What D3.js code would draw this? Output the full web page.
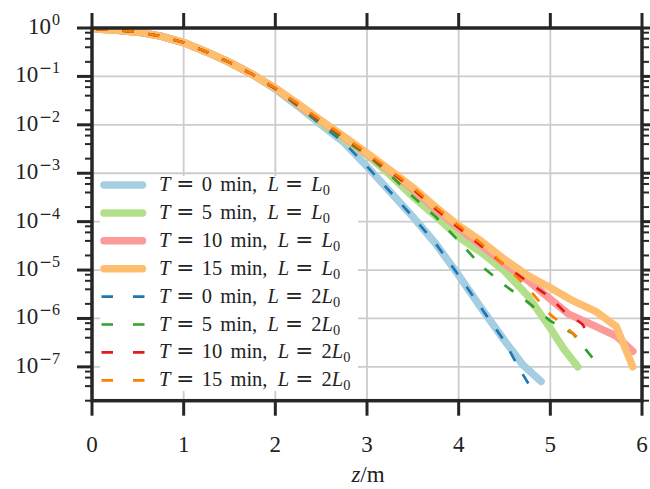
<!DOCTYPE html>
<html>
<head>
<meta charset="utf-8">
<script src="https://cdn.jsdelivr.net/npm/d3@7/dist/d3.min.js"></script>
<style>
  html, body { margin: 0; padding: 0; background: #fff; }
  svg { display: block; }
  text { font-family: "Liberation Serif", serif; fill: #222; }
</style>
</head>
<body>
<svg id="chart" width="650" height="489"></svg>
<script>
// ---- data -------------------------------------------------------------
const xTicks = [0, 1, 2, 3, 4, 5, 6];
const yExponents = [0, -1, -2, -3, -4, -5, -6, -7];

// T = 0 min, L = L0
const zT0L1 = [0.05, 0.25, 0.5, 0.75, 1.0, 1.25, 1.5, 1.75, 2.0, 2.25, 2.5, 2.75, 3.0, 3.25, 3.5, 3.75, 4.0, 4.25, 4.5, 4.7, 4.9];
const pT0L1 = [0.95, 0.91, 0.82, 0.68, 0.50, 0.32, 0.195, 0.11, 5.5e-2, 2.4e-2, 1.0e-2, 4.3e-3, 1.38e-3, 4.2e-4, 1.26e-4, 3.5e-5, 7.8e-6, 1.6e-6, 3.5e-7, 1.1e-7, 5.0e-8];
// T = 5 min, L = L0
const zT5L1 = [0.05, 0.25, 0.5, 0.75, 1.0, 1.25, 1.5, 1.75, 2.0, 2.25, 2.5, 2.75, 3.0, 3.25, 3.5, 3.75, 4.0, 4.25, 4.5, 4.75, 5.0, 5.15, 5.3];
const pT5L1 = [0.95, 0.91, 0.82, 0.68, 0.50, 0.32, 0.195, 0.11, 5.6e-2, 2.5e-2, 1.1e-2, 4.9e-3, 2.4e-3, 9.3e-4, 3.3e-4, 1.3e-4, 4.8e-5, 2.3e-5, 9.5e-6, 3.0e-6, 6.3e-7, 2.3e-7, 1.0e-7];
// T = 10 min, L = L0
const zT10L1 = [0.05, 0.25, 0.5, 0.75, 1.0, 1.25, 1.5, 1.75, 2.0, 2.25, 2.5, 2.75, 3.0, 3.25, 3.5, 3.75, 4.0, 4.25, 4.5, 4.75, 5.0, 5.2, 5.5, 5.72, 5.9];
const pT10L1 = [0.95, 0.91, 0.82, 0.68, 0.50, 0.32, 0.195, 0.11, 5.7e-2, 2.6e-2, 1.17e-2, 5.5e-3, 2.5e-3, 1.1e-3, 4.7e-4, 1.8e-4, 7.4e-5, 3.2e-5, 1.35e-5, 6.2e-6, 2.5e-6, 1.23e-6, 6.8e-7, 4.3e-7, 2.1e-7];
// T = 15 min, L = L0
const zT15L1 = [0.05, 0.25, 0.5, 0.75, 1.0, 1.25, 1.5, 1.75, 2.0, 2.25, 2.5, 2.75, 3.0, 3.25, 3.5, 3.75, 4.0, 4.25, 4.5, 4.75, 5.0, 5.25, 5.5, 5.72, 5.9];
const pT15L1 = [0.95, 0.91, 0.82, 0.68, 0.50, 0.32, 0.195, 0.11, 5.75e-2, 2.7e-2, 1.23e-2, 5.75e-3, 2.6e-3, 1.17e-3, 5.1e-4, 2.0e-4, 8.3e-5, 3.9e-5, 1.66e-5, 7.8e-6, 4.3e-6, 2.3e-6, 1.38e-6, 6.8e-7, 1.0e-7];

// T = 0 min, L = 2L0
const zT0L2 = [0.05, 0.25, 0.5, 0.75, 1.0, 1.25, 1.5, 1.75, 2.0, 2.25, 2.5, 2.75, 3.0, 3.25, 3.5, 3.75, 4.0, 4.25, 4.5, 4.6, 4.7, 4.8];
const pT0L2 = [0.95, 0.91, 0.82, 0.68, 0.50, 0.32, 0.195, 0.11, 5.5e-2, 2.4e-2, 1.0e-2, 4.3e-3, 1.38e-3, 4.2e-4, 1.26e-4, 3.5e-5, 7.8e-6, 1.6e-6, 3.4e-7, 1.5e-7, 7.0e-8, 3.4e-8];
// T = 5 min, L = 2L0
const zT5L2 = [0.05, 0.25, 0.5, 0.75, 1.0, 1.25, 1.5, 1.75, 2.0, 2.25, 2.5, 2.75, 3.0, 3.25, 3.5, 3.75, 4.0, 4.25, 4.5, 4.75, 5.0, 5.25, 5.35, 5.49];
const pT5L2 = [0.95, 0.91, 0.82, 0.68, 0.50, 0.32, 0.195, 0.11, 5.6e-2, 2.5e-2, 1.1e-2, 4.9e-3, 2.4e-3, 9.3e-4, 3.3e-4, 1.26e-4, 4.0e-5, 1.2e-5, 4.9e-6, 2.2e-6, 8.9e-7, 4.8e-7, 2.8e-7, 1.3e-7];
// T = 10 min, L = 2L0
const zT10L2 = [0.05, 0.25, 0.5, 0.75, 1.0, 1.25, 1.5, 1.75, 2.0, 2.25, 2.5, 2.75, 3.0, 3.25, 3.5, 3.75, 4.0, 4.25, 4.5, 4.75, 5.0, 5.15, 5.25, 5.35, 5.42];
const pT10L2 = [0.95, 0.91, 0.82, 0.68, 0.50, 0.32, 0.195, 0.11, 5.7e-2, 2.6e-2, 1.17e-2, 5.5e-3, 2.5e-3, 1.1e-3, 4.7e-4, 1.8e-4, 7.4e-5, 3.1e-5, 1.26e-5, 5.8e-6, 2.7e-6, 1.4e-6, 1.05e-6, 7.6e-7, 4.6e-7];
// T = 15 min, L = 2L0
const zT15L2 = [0.05, 0.25, 0.5, 0.75, 1.0, 1.25, 1.5, 1.75, 2.0, 2.25, 2.5, 2.75, 3.0, 3.25, 3.5, 3.75, 4.0, 4.25, 4.5, 4.75, 5.0, 5.15, 5.3];
const pT15L2 = [0.95, 0.91, 0.82, 0.68, 0.50, 0.32, 0.195, 0.11, 5.75e-2, 2.7e-2, 1.23e-2, 5.75e-3, 2.6e-3, 1.17e-3, 5.1e-4, 2.0e-4, 8.3e-5, 3.5e-5, 1.26e-5, 4.4e-6, 1.2e-6, 7.1e-7, 4.0e-7];

const seriesT = ["0", "5", "10", "15", "0", "5", "10", "15"];
const seriesL = ["", "", "", "", "2", "2", "2", "2"];

// ---- chart ------------------------------------------------------------
const solidColors = ["#a6cee3", "#b2df8a", "#fb9a99", "#fdbf6f"];
const dashColors = ["#1f78b4", "#33a02c", "#e31a1c", "#ff7f00"];
const ink = "#262626";

const series = [
  [zT0L1, pT0L1], [zT5L1, pT5L1], [zT10L1, pT10L1], [zT15L1, pT15L1],
  [zT0L2, pT0L2], [zT5L2, pT5L2], [zT10L2, pT10L2], [zT15L2, pT15L2]
].map(([z, p], i) => ({
  points: z.map((zz, j) => [zz, p[j]]),
  dashed: i >= 4,
  color: i < 4 ? solidColors[i] : dashColors[i - 4],
  T: seriesT[i], L: seriesL[i]
}));

const plot = { left: 92, right: 642, top: 28, bottom: 400.7 };
const x = d3.scaleLinear().domain([0, 6]).range([plot.left, plot.right]);
const y = d3.scaleLog().domain([2e-8, 1]).range([plot.bottom, plot.top]);

const svg = d3.select("#chart");
const FS = 23;      // tick labels and axis label
const LFS = 20.5;   // legend text

// grid
const grid = svg.append("g");
grid.selectAll("line.vx").data(xTicks).join("line")
  .attr("x1", d => x(d)).attr("x2", d => x(d))
  .attr("y1", plot.top).attr("y2", plot.bottom)
  .attr("stroke", "#cccccc").attr("stroke-width", 1.8);
grid.selectAll("line.hy").data(yExponents).join("line")
  .attr("y1", d => y(Math.pow(10, d))).attr("y2", d => y(Math.pow(10, d)))
  .attr("x1", plot.left).attr("x2", plot.right)
  .attr("stroke", "#cccccc").attr("stroke-width", 1.8);

// curves
svg.append("clipPath").attr("id", "plotclip").append("rect")
  .attr("x", plot.left).attr("y", plot.top)
  .attr("width", plot.right - plot.left).attr("height", plot.bottom - plot.top);
const line = d3.line().x(d => x(d[0])).y(d => y(d[1]));
const curves = svg.append("g").attr("clip-path", "url(#plotclip)");
series.forEach(s => {
  curves.append("path")
    .attr("d", line(s.points))
    .attr("fill", "none")
    .attr("stroke", s.color)
    .attr("stroke-width", s.dashed ? 2.7 : 7.5)
    .attr("stroke-linecap", s.dashed ? "butt" : "round")
    .attr("stroke-linejoin", "round")
    .attr("stroke-dasharray", s.dashed ? "11,15" : null);
});

// legend: math-style labels laid out piece by piece
const legend = svg.append("g");
legend.append("rect")
  .attr("x", 100).attr("y", 176).attr("width", 258).attr("height", 215)
  .attr("rx", 4).attr("fill", "#fff");

function piece(g, str, px, py, opts = {}) {
  const t = g.append("text").attr("x", px).attr("y", py)
    .attr("font-size", opts.size || LFS)
    .attr("font-style", opts.italic ? "italic" : "normal")
    .text(str);
  if (opts.family) t.style("font-family", opts.family);
  return t.node().getComputedTextLength();
}

series.forEach((s, i) => {
  const cy = 185 + i * 27.9;
  legend.append("line")
    .attr("x1", s.dashed ? 101.5 : 104).attr("x2", s.dashed ? 145 : 142.5)
    .attr("y1", cy).attr("y2", cy)
    .attr("stroke", s.color)
    .attr("stroke-width", s.dashed ? 2.7 : 7.5)
    .attr("stroke-linecap", s.dashed ? "butt" : "round")
    .attr("stroke-dasharray", s.dashed ? "11.5,20" : null);
  const by = cy + 6;
  const em = LFS;
  const eq = { family: "'DejaVu Serif'", size: LFS * 1.05 };
  let cx = 159;
  cx += piece(legend, "T", cx, by, { italic: true });
  cx += 0.28 * em;
  cx += piece(legend, "=", cx, by, eq);
  cx += 0.37 * em;
  cx += piece(legend, s.T, cx, by);
  cx += 0.4 * em;
  cx += piece(legend, "min,", cx, by);
  cx += 0.5 * em;
  cx += piece(legend, "L", cx, by, { italic: true });
  cx += 0.3 * em;
  cx += piece(legend, "=", cx, by, eq);
  cx += 0.4 * em;
  if (s.L) cx += piece(legend, s.L, cx, by);
  cx += piece(legend, "L", cx, by, { italic: true });
  piece(legend, "0", cx, by + 4, { size: LFS * 0.7 });
});

// axes: spines, ticks, labels
const axes = svg.append("g");
const minorVals = [];
for (let e = -8; e <= -1; e++) {
  [2, 4, 6, 8].forEach(m => {
    const v = m * Math.pow(10, e);
    if (v >= 2e-8 && v <= 1) minorVals.push(v);
  });
}
yExponents.forEach(e => {
  const yy = y(Math.pow(10, e));
  axes.append("line").attr("x1", plot.left - 15).attr("x2", plot.left).attr("y1", yy).attr("y2", yy)
    .attr("stroke", ink).attr("stroke-width", 3);
  axes.append("line").attr("x1", plot.right).attr("x2", plot.right + 15).attr("y1", yy).attr("y2", yy)
    .attr("stroke", ink).attr("stroke-width", 3);
  // label: "10" with a raised exponent, right-aligned at x = 60
  const g = axes.append("g");
  const supSize = FS * 0.7;
  const expTxt = g.append("text").attr("y", yy - 3).attr("font-size", supSize);
  if (e < 0) expTxt.append("tspan").style("font-family", "'DejaVu Serif'").attr("font-size", supSize * 0.95).text("\u2212");
  expTxt.append("tspan").text(String(Math.abs(e)));
  const expW = expTxt.node().getComputedTextLength();
  expTxt.attr("x", 60 - expW);
  g.append("text").attr("x", 60 - expW - 1).attr("y", yy + 6)
    .attr("text-anchor", "end").attr("font-size", FS).text("10");
});
minorVals.forEach(v => {
  const yy = y(v);
  axes.append("line").attr("x1", plot.left - 7).attr("x2", plot.left).attr("y1", yy).attr("y2", yy)
    .attr("stroke", ink).attr("stroke-width", 2);
  axes.append("line").attr("x1", plot.right).attr("x2", plot.right + 7).attr("y1", yy).attr("y2", yy)
    .attr("stroke", ink).attr("stroke-width", 2);
});
xTicks.forEach(d => {
  const xx = x(d);
  axes.append("line").attr("x1", xx).attr("x2", xx).attr("y1", plot.bottom).attr("y2", plot.bottom + 15)
    .attr("stroke", ink).attr("stroke-width", 3);
  axes.append("line").attr("x1", xx).attr("x2", xx).attr("y1", plot.top - 15).attr("y2", plot.top)
    .attr("stroke", ink).attr("stroke-width", 3);
  axes.append("text").attr("x", xx).attr("y", 452)
    .attr("text-anchor", "middle").attr("font-size", FS).text(String(d));
});
axes.append("rect")
  .attr("x", plot.left).attr("y", plot.top)
  .attr("width", plot.right - plot.left).attr("height", plot.bottom - plot.top)
  .attr("fill", "none").attr("stroke", ink).attr("stroke-width", 3.5);

// x axis label
const xl = svg.append("text").attr("x", 368).attr("y", 482)
  .attr("text-anchor", "middle").attr("font-size", FS);
xl.append("tspan").attr("font-style", "italic").text("z");
xl.append("tspan").text("/m");
</script>
</body>
</html>
